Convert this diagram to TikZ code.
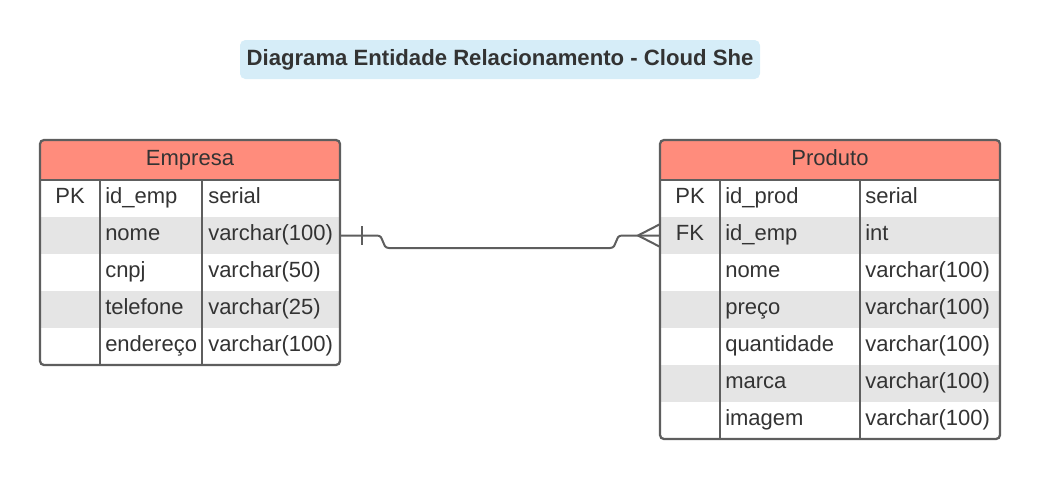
\documentclass[tikz,border=0pt]{standalone}
\usepackage{fontspec}
\setmainfont{Liberation Sans}
\definecolor{hdrred}{HTML}{FF8C7C}
\definecolor{stripe}{HTML}{E5E5E5}
\definecolor{linegray}{HTML}{5E5E5E}
\definecolor{txtgray}{HTML}{333333}
\definecolor{titleblue}{HTML}{D6EDF8}
\begin{document}
\begin{tikzpicture}[x=0.75pt,y=-0.75pt,
  outline/.style={draw=linegray, line width=1.7pt, rounded corners=3pt},
  divider/.style={draw=linegray, line width=1.7pt},
  rowbox/.style={rectangle, inner sep=0pt, outer sep=0pt, minimum height=27.75pt},
  cell/.style={font=\fontsize{16.5pt}{18pt}\selectfont, text=txtgray, inner sep=0pt, anchor=base west},
  keycell/.style={cell, anchor=base},
  hdrtext/.style={font=\fontsize{16.5pt}{18pt}\selectfont, text=txtgray, inner sep=0pt, anchor=base},
  conn/.style={draw=linegray, line width=1.5pt},
  titlebox/.style={fill=titleblue, rounded corners=4pt, inner sep=0pt, minimum width=390pt, minimum height=29.25pt, text=txtgray, font=\fontsize{16.6pt}{18pt}\selectfont\bfseries}]
\useasboundingbox (0,0) rectangle (1040,479);

% title
\node[titlebox] (title) at (500,59.5) {Diagrama Entidade Relacionamento - Cloud She};

% ---------- Empresa ----------
\begin{scope}
  \clip[rounded corners=3pt] (40,140) rectangle (340,365);
  \fill[hdrred] (40,140) rectangle (340,180);
  \foreach \i/\f in {1/white,2/stripe,3/white,4/stripe,5/white}{
    \node[rowbox, fill=\f, minimum width=225pt] (e\i) at (190,{180+37*(\i-1)+18.5}) {};
  }
\end{scope}
\node[hdrtext] (ehdr) at (190,165) {Empresa};
\draw[divider] (40,180) -- (340,180);
\draw[divider] (100,180) -- (100,365);
\draw[divider] (202,180) -- (202,365);
\node[outline, rectangle, inner sep=0pt, minimum width=225pt, minimum height=168.75pt] (empresa) at (190,252.5) {};
\foreach \i/\k/\n/\t in {1/PK/id\_emp/serial,2//nome/varchar(100),3//cnpj/varchar(50),4//telefone/varchar(25),5//endereço/varchar(100)}{
  \node[keycell] (ek\i) at (70,{180+37*(\i-1)+23}) {\k};
  \node[cell] (en\i) at (105,{180+37*(\i-1)+23}) {\n};
  \node[cell] (et\i) at (208,{180+37*(\i-1)+23}) {\t};
}

% ---------- Produto ----------
\begin{scope}
  \clip[rounded corners=3pt] (660,140) rectangle (1000,439);
  \fill[hdrred] (660,140) rectangle (1000,180);
  \foreach \i/\f in {1/white,2/stripe,3/white,4/stripe,5/white,6/stripe,7/white}{
    \node[rowbox, fill=\f, minimum width=255pt] (p\i) at (830,{180+37*(\i-1)+18.5}) {};
  }
\end{scope}
\node[hdrtext] (phdr) at (830,165) {Produto};
\draw[divider] (660,180) -- (1000,180);
\draw[divider] (720,180) -- (720,439);
\draw[divider] (860,180) -- (860,439);
\node[outline, rectangle, inner sep=0pt, minimum width=255pt, minimum height=224.25pt] (produto) at (830,289.5) {};
\foreach \i/\k/\n/\t in {1/PK/id\_prod/serial,2/FK/id\_emp/int,3//nome/varchar(100),4//preço/varchar(100),5//quantidade/varchar(100),6//marca/varchar(100),7//imagem/varchar(100)}{
  \node[keycell] (pk\i) at (690,{180+37*(\i-1)+23}) {\k};
  \node[cell] (pn\i) at (725,{180+37*(\i-1)+23}) {\n};
  \node[cell] (pt\i) at (865,{180+37*(\i-1)+23}) {\t};
}

% ---------- connector ----------
\draw[conn] (e2.east) -- (377,235.5) .. controls (385,235.5) and (381,248) .. (389,248)
  -- (610,248) .. controls (618,248) and (614,235.5) .. (622,235.5) -- (p2.west);
\coordinate (bar) at (362,235.5);
\draw[conn] ([yshift=7pt]bar) -- ([yshift=-7pt]bar);
\coordinate (foot) at (638,235.5);
\draw[conn] ([yshift=8.5pt]p2.west) -- (foot) -- ([yshift=-8.5pt]p2.west);
\end{tikzpicture}
\end{document}
